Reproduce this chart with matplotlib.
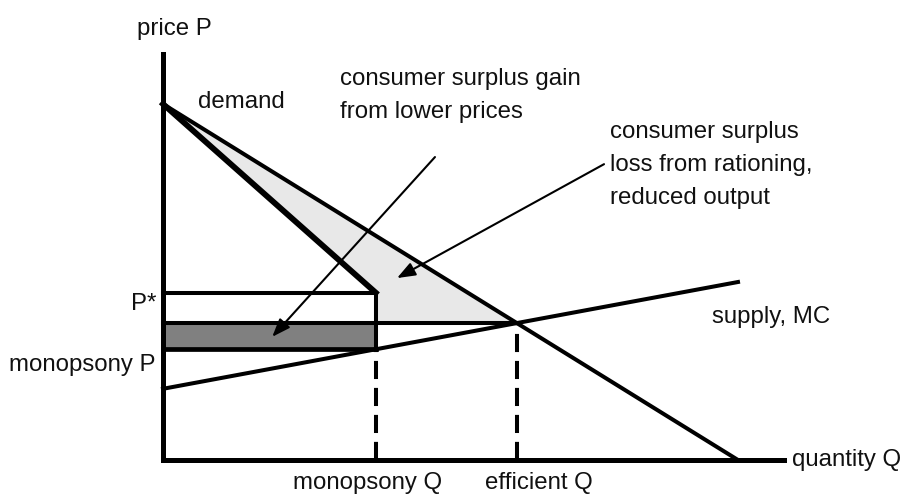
import matplotlib
matplotlib.use("Agg")
import matplotlib.pyplot as plt
from matplotlib import font_manager

# economic model (arbitrary units)
demand_q = [0, 100]
demand_p = [100, 0]
supply_q = [0, 100]
supply_p = [20, 50]
q_mono = 37           # monopsony quantity
p_star = 47           # P*
axis_q_max = 108
axis_p_max = 114

# arrows: (tail q, tail p, head q, head p)
arrow_gain = (47.3, 85.1, 19.0, 34.6)
arrow_loss = (76.7, 83.1, 40.7, 51.1)

LW_AXIS = 3.6
LW_LINE = 2.9
LW_MR = 4.2
LIGHT = "#e8e8e8"
DARK = "#808080"

# pixel -> data helpers for the layout
PX_Q = 5.75
PX_P = 3.56
X0, Y0 = 163, 460
W, H = 904, 496

names = {f.name for f in font_manager.fontManager.ttflist}
family = "Liberation Sans" if "Liberation Sans" in names else "DejaVu Sans"
plt.rcParams["font.family"] = [family, "DejaVu Sans"]
FS = 17.3


def px(x, y):
    return (x - X0) / PX_Q, (Y0 - y) / PX_P


# derived points
s_slope = (supply_p[1] - supply_p[0]) / (supply_q[1] - supply_q[0])
d_slope = (demand_p[1] - demand_p[0]) / (demand_q[1] - demand_q[0])
q_eff = (demand_p[0] - supply_p[0]) / (s_slope - d_slope)
p_eff = supply_p[0] + s_slope * q_eff
p_mono = supply_p[0] + s_slope * q_mono

fig = plt.figure(figsize=(W / 100, H / 100), dpi=100)
ax = fig.add_axes([0, 0, 1, 1])
ax.set_xlim(-X0 / PX_Q, (W - X0) / PX_Q)
ax.set_ylim(-(H - Y0) / PX_P, Y0 / PX_P)
ax.axis("off")

# shaded areas
ax.fill([0, q_eff, q_mono, q_mono], [demand_p[0], p_eff, p_eff, p_star],
        color=LIGHT, lw=0, zorder=1)
ax.fill_between([0, q_mono], p_mono, p_eff, color=DARK, lw=0, zorder=1)

# horizontal price lines and the box edge
ax.plot([0, q_mono], [p_star, p_star], color="k", lw=LW_LINE, zorder=3)
ax.plot([0, q_eff], [p_eff, p_eff], color="k", lw=LW_LINE, zorder=3)
ax.plot([0, q_mono], [p_mono, p_mono], color="k", lw=3.4, zorder=3)
ax.plot([q_mono, q_mono], [p_star, p_mono], color="k", lw=LW_LINE, zorder=3)

# curves
ax.plot(demand_q, demand_p, color="k", lw=LW_LINE, zorder=3)
ax.plot(supply_q, supply_p, color="k", lw=LW_LINE, zorder=3)
ax.plot([0, q_mono], [demand_p[0], p_star], color="k", lw=LW_MR, zorder=3,
        solid_joinstyle="miter")

# dashed drops
ax.plot([q_mono, q_mono], [0, p_mono], color="k", lw=LW_LINE,
        dashes=(4.5, 2.2), zorder=2)
ax.plot([q_eff, q_eff], [0, p_eff], color="k", lw=LW_LINE,
        dashes=(4.5, 2.2), zorder=2)

# axes
ax.plot([0, 0], [0, axis_p_max], color="k", lw=LW_AXIS, zorder=4,
        solid_capstyle="projecting")
ax.plot([0, axis_q_max], [0, 0], color="k", lw=LW_AXIS, zorder=4,
        solid_capstyle="projecting")

# arrows
for a in (arrow_gain, arrow_loss):
    ax.annotate("", xy=(a[2], a[3]), xytext=(a[0], a[1]),
                arrowprops=dict(arrowstyle="-|>,head_length=1.1,head_width=0.42",
                                mutation_scale=10, lw=1.5, color="k",
                                shrinkA=0, shrinkB=0), zorder=5)

# labels (pixel anchors -> data)
labels = [
    ("price P", 137, 35, "left"),
    ("demand", 198, 108, "left"),
    ("consumer surplus gain", 340, 85, "left"),
    ("from lower prices", 340, 118, "left"),
    ("consumer surplus", 610, 138, "left"),
    ("loss from rationing,", 610, 171, "left"),
    ("reduced output", 610, 204, "left"),
    ("P*", 156, 310, "right"),
    ("monopsony P", 156, 371, "right"),
    ("supply, MC", 712, 323, "left"),
    ("monopsony Q", 293, 489, "left"),
    ("efficient Q", 485, 489, "left"),
    ("quantity Q", 792, 466, "left"),
]
for txt, x, y, ha in labels:
    ax.text(*px(x, y), txt, ha=ha, va="baseline", fontsize=FS, color="#111111")

fig.savefig("out.png", dpi=100)
